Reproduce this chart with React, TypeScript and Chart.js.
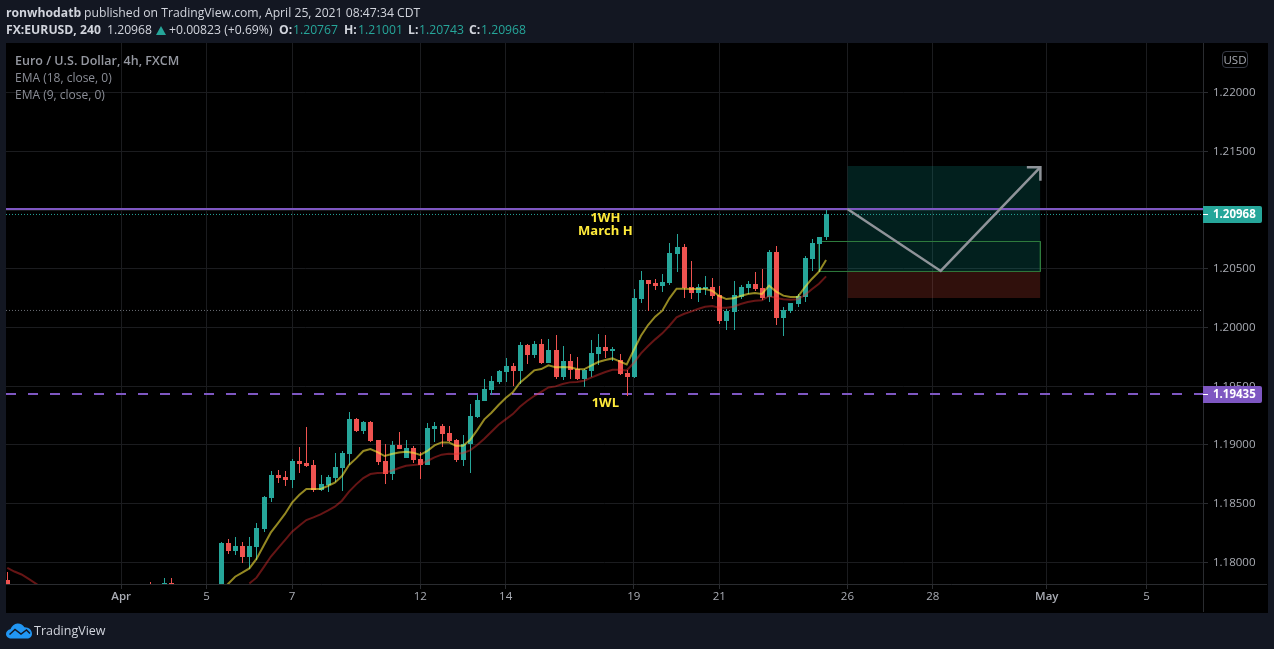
import React, { useEffect, useRef } from "react";
import { Chart, registerables } from "chart.js";

Chart.register(...registerables);

const FONT = "'Open Sans', 'Noto Sans', sans-serif";
const TEAL = "#26a69a";
const RED = "#ef5350";
const PURPLE = "#7e57c2";

const barIndex = [-16, 4, 6, 7, 14, 15, 16, 17, 18, 19, 20, 21, 22, 23, 24, 25, 26, 27, 28, 29, 30, 31, 32, 33, 34, 35, 36, 37, 38, 39, 40, 41, 42, 43, 44, 45, 46, 47, 48, 49, 50, 51, 52, 53, 54, 55, 56, 57, 58, 59, 60, 61, 62, 63, 64, 65, 66, 67, 68, 69, 70, 71, 72, 73, 74, 75, 76, 77, 78, 79, 80, 81, 82, 83, 84, 85, 86, 87, 88, 89, 90, 91, 92, 93, 94, 95, 96, 97, 98, 99];

const opens = [1.17855, 1.1776, 1.1774, 1.17822, 1.1775, 1.18166, 1.18098, 1.1814, 1.18047, 1.18132, 1.18285, 1.18549, 1.18744, 1.18727, 1.18702, 1.18864, 1.18847, 1.1883, 1.18617, 1.18659, 1.18719, 1.18804, 1.18923, 1.19221, 1.19119, 1.19196, 1.19042, 1.18864, 1.18753, 1.19, 1.18889, 1.18974, 1.18881, 1.1883, 1.19136, 1.19161, 1.19102, 1.19042, 1.18872, 1.19008, 1.19238, 1.19374, 1.19468, 1.19536, 1.19621, 1.19672, 1.19629, 1.19851, 1.19766, 1.19859, 1.19697, 1.19808, 1.19578, 1.19714, 1.19646, 1.19561, 1.19629, 1.19774, 1.19834, 1.198, 1.19723, 1.19612, 1.19578, 1.20242, 1.20404, 1.20378, 1.20353, 1.20379, 1.20625, 1.20685, 1.20345, 1.20293, 1.20328, 1.20345, 1.20276, 1.20055, 1.20132, 1.20259, 1.20336, 1.2037, 1.20336, 1.20259, 1.20642, 1.20081, 1.2014, 1.202, 1.20259, 1.20583, 1.20711, 1.20767];

const highs = [1.17923, 1.17838, 1.17864, 1.17864, 1.18171, 1.182, 1.18217, 1.18174, 1.18217, 1.18336, 1.18566, 1.18778, 1.18787, 1.18778, 1.18881, 1.18983, 1.19153, 1.18872, 1.18744, 1.18744, 1.18932, 1.18949, 1.19281, 1.1923, 1.19204, 1.19204, 1.19042, 1.19008, 1.19034, 1.1911, 1.19042, 1.18991, 1.1894, 1.19187, 1.19196, 1.19179, 1.19161, 1.19051, 1.19085, 1.19349, 1.19425, 1.19561, 1.19587, 1.19638, 1.1974, 1.19697, 1.19876, 1.19859, 1.19885, 1.19902, 1.19902, 1.19936, 1.19842, 1.19774, 1.19749, 1.19646, 1.19893, 1.19944, 1.19936, 1.19834, 1.19774, 1.19638, 1.20327, 1.20481, 1.20404, 1.20412, 1.20455, 1.20719, 1.20796, 1.20711, 1.20566, 1.2037, 1.20438, 1.20421, 1.20353, 1.20157, 1.20396, 1.20362, 1.20396, 1.20472, 1.20498, 1.20659, 1.20693, 1.20174, 1.20208, 1.20285, 1.20608, 1.20753, 1.2077, 1.21001];

const lows = [1.177, 1.1772, 1.1772, 1.1773, 1.177, 1.18072, 1.18064, 1.17995, 1.17944, 1.18021, 1.18259, 1.18515, 1.18676, 1.18651, 1.18634, 1.18761, 1.18813, 1.186, 1.18608, 1.186, 1.18685, 1.18608, 1.1883, 1.1911, 1.19093, 1.19025, 1.1883, 1.18668, 1.18702, 1.18966, 1.18889, 1.18847, 1.1871, 1.1883, 1.19025, 1.18983, 1.19025, 1.18855, 1.18821, 1.18761, 1.1923, 1.19374, 1.19425, 1.19519, 1.19536, 1.19502, 1.19519, 1.19689, 1.1974, 1.19689, 1.19697, 1.19561, 1.19553, 1.19561, 1.19553, 1.19493, 1.19578, 1.1968, 1.1974, 1.19714, 1.19595, 1.19417, 1.1957, 1.20208, 1.2014, 1.20319, 1.20302, 1.20362, 1.20472, 1.20251, 1.20242, 1.20217, 1.20276, 1.20242, 1.2003, 1.19979, 1.19979, 1.20242, 1.20285, 1.2031, 1.20234, 1.20217, 1.20021, 1.19928, 1.20123, 1.20174, 1.20217, 1.20481, 1.20472, 1.20743];

const closes = [1.1775, 1.1774, 1.17822, 1.1775, 1.18166, 1.18098, 1.1814, 1.18047, 1.1814, 1.18293, 1.18557, 1.18744, 1.18719, 1.18702, 1.18864, 1.18838, 1.18821, 1.18617, 1.18668, 1.18727, 1.18813, 1.18932, 1.19221, 1.19119, 1.19196, 1.19034, 1.18855, 1.18753, 1.19, 1.18966, 1.18974, 1.18872, 1.1883, 1.19144, 1.19161, 1.19093, 1.19034, 1.18872, 1.19008, 1.19247, 1.19383, 1.19476, 1.19544, 1.19629, 1.19672, 1.19629, 1.19851, 1.19766, 1.19859, 1.19697, 1.19808, 1.19578, 1.19714, 1.19638, 1.19561, 1.19638, 1.19783, 1.19834, 1.198, 1.19817, 1.19604, 1.19578, 1.20251, 1.20404, 1.2037, 1.20353, 1.20387, 1.20634, 1.20685, 1.20336, 1.20293, 1.20345, 1.20345, 1.20268, 1.20055, 1.2014, 1.20276, 1.20345, 1.2037, 1.20328, 1.20251, 1.20642, 1.20081, 1.20149, 1.20208, 1.20268, 1.20591, 1.20719, 1.2077, 1.20968];

const ema9Index = [14, 15, 16, 17, 18, 19, 20, 21, 22, 23, 24, 25, 26, 27, 28, 29, 30, 31, 32, 33, 34, 35, 36, 37, 38, 39, 40, 41, 42, 43, 44, 45, 46, 47, 48, 49, 50, 51, 52, 53, 54, 55, 56, 57, 58, 59, 60, 61, 62, 63, 64, 65, 66, 67, 68, 69, 70, 71, 72, 73, 74, 75, 76, 77, 78, 79, 80, 81, 82, 83, 84, 85, 86, 87, 88, 89, 90, 91, 92, 93, 94, 95, 96, 97, 98, 99];
const ema9 = [1.17752, 1.17817, 1.17879, 1.17913, 1.1795, 1.1803, 1.18143, 1.18254, 1.18333, 1.18413, 1.18509, 1.18574, 1.18625, 1.18625, 1.18625, 1.18651, 1.18679, 1.18736, 1.1883, 1.18886, 1.18949, 1.18966, 1.1894, 1.18906, 1.18923, 1.18937, 1.18943, 1.18935, 1.18915, 1.18949, 1.18997, 1.19022, 1.19022, 1.18994, 1.18994, 1.19042, 1.19127, 1.19218, 1.19275, 1.1934, 1.194, 1.19448, 1.1953, 1.19581, 1.19635, 1.19646, 1.19678, 1.19661, 1.19663, 1.19661, 1.19646, 1.19644, 1.19675, 1.19706, 1.19723, 1.19737, 1.19712, 1.19686, 1.19808, 1.1993, 1.20021, 1.20092, 1.20143, 1.20248, 1.2033, 1.2033, 1.20328, 1.20328, 1.20328, 1.20313, 1.20268, 1.20242, 1.20248, 1.20268, 1.20285, 1.20293, 1.20285, 1.20356, 1.20305, 1.20271, 1.20259, 1.20259, 1.20342, 1.20413, 1.20475, 1.20574];

const ema18EarlyIndex = [-16, -15, -14, -13, -12, -11];
const ema18Early = [1.17955, 1.17923, 1.17898, 1.1786, 1.17821, 1.1778];

const ema18Index = [18, 19, 20, 21, 22, 23, 24, 25, 26, 27, 28, 29, 30, 31, 32, 33, 34, 35, 36, 37, 38, 39, 40, 41, 42, 43, 44, 45, 46, 47, 48, 49, 50, 51, 52, 53, 54, 55, 56, 57, 58, 59, 60, 61, 62, 63, 64, 65, 66, 67, 68, 69, 70, 71, 72, 73, 74, 75, 76, 77, 78, 79, 80, 81, 82, 83, 84, 85, 86, 87, 88, 89, 90, 91, 92, 93, 94, 95, 96, 97, 98, 99];
const ema18 = [1.17822, 1.17871, 1.17959, 1.18049, 1.1812, 1.18191, 1.18262, 1.18313, 1.18361, 1.18384, 1.1841, 1.18441, 1.18475, 1.18526, 1.18603, 1.18665, 1.18719, 1.18753, 1.18761, 1.18764, 1.18781, 1.18804, 1.18824, 1.1883, 1.18835, 1.18864, 1.18895, 1.18918, 1.18926, 1.18923, 1.18932, 1.18954, 1.19, 1.19053, 1.19112, 1.19172, 1.19218, 1.19263, 1.19326, 1.19374, 1.19417, 1.19453, 1.1949, 1.19499, 1.19519, 1.19533, 1.19536, 1.19547, 1.19573, 1.19598, 1.19621, 1.19641, 1.19641, 1.19635, 1.197, 1.1978, 1.19842, 1.19899, 1.1995, 1.20015, 1.20086, 1.20115, 1.20135, 1.20157, 1.20177, 1.20183, 1.20169, 1.20169, 1.20177, 1.202, 1.20217, 1.20228, 1.20231, 1.20268, 1.20251, 1.2024, 1.20237, 1.2024, 1.20276, 1.20325, 1.20373, 1.20435];

const xTickIndex = [0, 12, 24, 42, 54, 72, 84, 102, 114, 130, 144];
const xTickLabels = ["Apr", "5", "7", "12", "14", "19", "21", "26", "28", "May", "5"];
const yTickValues = [1.18, 1.185, 1.19, 1.195, 1.2, 1.205, 1.21, 1.215, 1.22];
const yTickHidden = [1.21];

const xBounds = [-16.18, 151.94];
const yBounds = [1.17817, 1.224213];

const weekHighLine = 1.21009;
const lastPriceLine = 1.20962;
const grayLine = 1.20145;
const weekLowLine = 1.19434;

const positionIndex = [102, 129.1];
const profitTop = 1.21374;
const entryPrice = 1.20481;
const stopPrice = 1.20251;
const rectIndex = [98, 129.1];
const rectTop = 1.20732;
const rectBottom = 1.20477;
const arrowIndex = [102, 115.1, 129.1];
const arrowPrice = [1.21009, 1.20481, 1.21364];
const arrowWingIndex = [127.2, 129.1, 129.1];
const arrowWingPrice = [1.21364, 1.21364, 1.21249];

const noteTexts = ["1WH", "March H", "1WL"];
const noteIndex = [68, 68, 68];
const notePrice = [1.20928, 1.20821, 1.19353];
const badgeTexts = ["1.20968", "1.19435"];
const badgePrice = [1.20962, 1.19434];
const badgeColors = [TEAL, PURPLE];

const pts = (xs: number[], ys: number[]) => xs.map((x, i) => ({ x, y: ys[i] }));

const snapBars = {
  id: "snapBars",
  afterDatasetsUpdate(chart: any) {
    chart.getSortedVisibleDatasetMetas().forEach((meta: any) => {
      if (meta.type !== "bar") return;
      meta.data.forEach((el: any) => {
        el.x = Math.round(el.x) + 0.5;
        el.y = Math.round(el.y);
        el.base = Math.round(el.base);
      });
    });
  },
};

const panel = {
  id: "panel",
  beforeDraw(chart: any) {
    const c = chart.ctx;
    c.save();
    c.fillStyle = "#131722";
    c.fillRect(0, 0, chart.width, chart.height);
    c.fillStyle = "#000000";
    c.fillRect(6, 43, 1262, 570);
    c.restore();
  },
  afterDraw(chart: any) {
    const c = chart.ctx;
    const { x, y } = chart.scales;
    c.save();
    c.strokeStyle = "#2a2c30";
    c.lineWidth = 1;
    c.beginPath();
    c.moveTo(6, 584.5);
    c.lineTo(1267, 584.5);
    c.moveTo(1203.5, 43);
    c.lineTo(1203.5, 612);
    c.stroke();

    c.textBaseline = "middle";
    c.textAlign = "center";
    c.fillStyle = "#ffeb3b";
    c.font = `bold 13px ${FONT}`;
    noteTexts.forEach((t, i) => {
      c.fillText(t, x.getPixelForValue(noteIndex[i]), y.getPixelForValue(notePrice[i]));
    });

    c.textAlign = "left";
    c.font = `bold 11.5px ${FONT}`;
    badgeTexts.forEach((t, i) => {
      const cy = y.getPixelForValue(badgePrice[i]);
      c.fillStyle = badgeColors[i];
      c.beginPath();
      c.roundRect(1203, Math.round(cy) - 8, 59, 17, [0, 2, 2, 0]);
      c.fill();
      c.fillStyle = "#ffffff";
      c.fillRect(1203, Math.round(cy), 5, 1);
      c.fillText(t, 1213, Math.round(cy) + 1);
    });
    c.restore();
  },
};

const lineBase = { type: "line", pointRadius: 0, pointHoverRadius: 0, tension: 0, fill: false };

export default function App() {
  const ref = useRef<HTMLCanvasElement>(null);

  useEffect(() => {
    const bodies = barIndex.map((x, i) => ({ x, y: [opens[i], closes[i]] }));
    const wicks = barIndex.map((x, i) => ({ x, y: [lows[i], highs[i]] }));
    const colors = barIndex.map((_, i) => (closes[i] >= opens[i] ? TEAL : RED));
    const hLine = (p: number) => [
      { x: xBounds[0], y: p },
      { x: xBounds[1], y: p },
    ];

    const chart = new Chart(ref.current as HTMLCanvasElement, {
      type: "bar",
      plugins: [snapBars, panel],
      data: {
        datasets: [
          { ...lineBase, label: "Arrow head", data: pts(arrowWingIndex, arrowWingPrice), borderColor: "#8f9399", borderWidth: 2.5, order: 1 },
          { ...lineBase, label: "Arrow", data: pts(arrowIndex, arrowPrice), borderColor: "#8f9399", borderWidth: 2.5, order: 1 },
          { ...lineBase, label: "EMA 9", data: pts(ema9Index, ema9), borderColor: "rgba(255,235,59,0.58)", borderWidth: 2, order: 2 },
          { ...lineBase, label: "EMA 18", data: pts(ema18Index, ema18), borderColor: "rgba(244,50,50,0.42)", borderWidth: 2, order: 3 },
          { ...lineBase, label: "EMA 18 early", data: pts(ema18EarlyIndex, ema18Early), borderColor: "rgba(244,50,50,0.42)", borderWidth: 2, order: 3 },
          { type: "bar", label: "Bodies", data: bodies, backgroundColor: colors, barThickness: 5, grouped: false, borderWidth: 0, inflateAmount: 0, order: 4 },
          { type: "bar", label: "Wicks", data: wicks, backgroundColor: colors, barThickness: 1, grouped: false, borderWidth: 0, inflateAmount: 0, order: 5 },
          { ...lineBase, label: "Last price", data: hLine(lastPriceLine), borderColor: TEAL, borderWidth: 1, borderDash: [1, 2], order: 6 },
          { ...lineBase, label: "Gray level", data: hLine(grayLine), borderColor: "#6a6d74", borderWidth: 1, borderDash: [1, 2], order: 6 },
          { ...lineBase, label: "Week high", data: hLine(weekHighLine), borderColor: PURPLE, borderWidth: 2, order: 6 },
          { ...lineBase, label: "Week low", data: hLine(weekLowLine), borderColor: PURPLE, borderWidth: 2, borderDash: [10, 12], order: 6 },
          {
            ...lineBase,
            label: "Range",
            data: [
              { x: rectIndex[0], y: rectTop },
              { x: rectIndex[1], y: rectTop },
              { x: rectIndex[1], y: rectBottom },
              { x: rectIndex[0], y: rectBottom },
              { x: rectIndex[0], y: rectTop },
            ],
            fill: { value: rectBottom },
            backgroundColor: "rgba(76,175,80,0.05)",
            borderColor: "#2f7d3e",
            borderWidth: 1,
            order: 7,
          },
          { ...lineBase, label: "Profit", data: [{ x: positionIndex[0], y: profitTop }, { x: positionIndex[1], y: profitTop }], fill: { value: entryPrice }, backgroundColor: "rgba(10,160,150,0.2)", borderWidth: 0, order: 8 },
          { ...lineBase, label: "Stop", data: [{ x: positionIndex[0], y: entryPrice }, { x: positionIndex[1], y: entryPrice }], fill: { value: stopPrice }, backgroundColor: "rgba(240,80,60,0.2)", borderWidth: 0, order: 8 },
        ],
      } as any,
      options: {
        responsive: false,
        animation: false,
        devicePixelRatio: 1,
        events: [],
        layout: { autoPadding: false, padding: { left: 6, top: 43, right: 0, bottom: 0 } },
        plugins: { legend: { display: false }, tooltip: { enabled: false }, title: { display: false } },
        scales: {
          x: {
            type: "linear",
            min: xBounds[0],
            max: xBounds[1],
            offset: false,
            afterFit(scale: any) {
              scale.height = 65;
            },
            afterBuildTicks(scale: any) {
              scale.ticks = xTickIndex.map((value) => ({ value }));
            },
            grid: { offset: false, color: "#1b1c1f", tickColor: "#2a2c30", tickLength: 5, lineWidth: 1 },
            border: { display: false },
            ticks: {
              color: "#a9acb4",
              padding: 1,
              maxRotation: 0,
              autoSkip: false,
              font: (ctx: any) => {
                const label = xTickLabels[xTickIndex.indexOf(ctx.tick?.value)];
                return { family: FONT, size: 11.5, weight: label === "Apr" || label === "May" ? 600 : 400 };
              },
              callback: (v: any) => xTickLabels[xTickIndex.indexOf(v)] ?? "",
            },
          },
          y: {
            type: "linear",
            position: "right",
            min: yBounds[0],
            max: yBounds[1],
            afterFit(scale: any) {
              scale.width = 71;
            },
            afterBuildTicks(scale: any) {
              scale.ticks = yTickValues.map((value) => ({ value }));
            },
            grid: { color: "#1b1c1f", tickColor: "#2a2c30", tickLength: 5, lineWidth: 1 },
            border: { display: false },
            ticks: {
              color: "#a9acb4",
              padding: 5,
              font: { family: FONT, size: 11.5 },
              callback: (v: any) => (yTickHidden.includes(v) ? "" : Number(v).toFixed(5)),
            },
          },
        },
      } as any,
    });
    return () => chart.destroy();
  }, []);

  const abs = (left: number, top: number, extra: any = {}) => ({
    position: "absolute" as const,
    left,
    top,
    whiteSpace: "nowrap" as const,
    fontFamily: FONT,
    ...extra,
  });
  const row1 = { fontSize: 12.2, lineHeight: "18px", color: "#d1d4dc" };
  const row2 = { fontSize: 12.2, lineHeight: "18px", color: "#d1d4dc" };
  const val = { ...row2, color: TEAL };
  const lab = { ...row2, fontWeight: 700 };

  return (
    <div style={{ position: "fixed", left: 0, top: 0, width: 1274, height: 649, overflow: "hidden", background: "#131722" }}>
      <canvas ref={ref} width={1274} height={649} style={{ display: "block", width: 1274, height: 649 }} />
      <div style={abs(6, 4, { ...row1, fontWeight: 700 })}>ronwhodatb</div>
      <div style={abs(84, 4, row1)}>published on TradingView.com, April 25, 2021 08:47:34 CDT</div>
      <div style={abs(6, 21, lab)}>FX:EURUSD, 240</div>
      <div style={abs(107, 21, row2)}>1.20968</div>
      <svg style={{ position: "absolute", left: 156, top: 26 }} width={10} height={9} viewBox="0 0 10 9">
        <polygon points="5,0 10,9 0,9" fill={TEAL} />
      </svg>
      <div style={abs(169, 21, row2)}>+0.00823 (+0.69%)</div>
      <div style={abs(279, 21, lab)}>O:</div>
      <div style={abs(293, 21, val)}>1.20767</div>
      <div style={abs(344, 21, lab)}>H:</div>
      <div style={abs(358, 21, val)}>1.21001</div>
      <div style={abs(408, 21, lab)}>L:</div>
      <div style={abs(419, 21, val)}>1.20743</div>
      <div style={abs(469, 21, lab)}>C:</div>
      <div style={abs(481, 21, val)}>1.20968</div>
      <div style={abs(15, 52, { fontSize: 12.5, lineHeight: "17px", color: "#9598a1", fontWeight: 600 })}>Euro / U.S. Dollar, 4h, FXCM</div>
      <div style={abs(15, 69, { fontSize: 12, lineHeight: "17px", color: "#8a8d96" })}>EMA (18, close, 0)</div>
      <div style={abs(15, 86, { fontSize: 12, lineHeight: "17px", color: "#8a8d96" })}>EMA (9, close, 0)</div>
      <div
        style={abs(1222, 51, {
          width: 26,
          height: 17,
          boxSizing: "border-box",
          border: "1px solid #363a45",
          borderRadius: 4,
          fontSize: 11.5,
          lineHeight: "15px",
          textAlign: "center",
          color: "#a9acb4",
        })}
      >
        USD
      </div>
      <svg style={{ position: "absolute", left: 6, top: 623 }} width={26} height={16} viewBox="0 0 26 16">
        <path d="M5.5 15.5C2.4 15.5 0 13.5 0 10.9c0-2.3 1.9-4.2 4.4-4.7C5.8 3 8.4.6 11.4.4c3-.2 5.6 1.4 7 3.9 4-.2 7.6 2.7 7.6 6.4 0 2.8-2.2 4.8-5 4.8H5.5z" fill="#2196f3" />
        <path d="M3.5 11.5 L9 6.5 L15 11 L20.5 7 L24 10.5" fill="none" stroke="#131722" strokeWidth="1.5" />
      </svg>
      <div style={abs(34, 622, { fontSize: 12.5, lineHeight: "18px", color: "#d1d4dc" })}>TradingView</div>
    </div>
  );
}
